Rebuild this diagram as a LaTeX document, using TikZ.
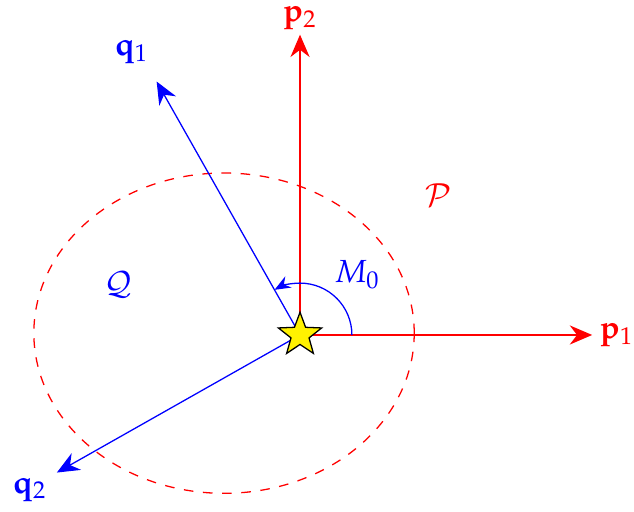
\documentclass[tikz,border=0pt]{standalone}
\usepackage{mathpazo}
\usetikzlibrary{positioning,shapes.geometric,arrows.meta}
\tikzset{
  vecp/.style={red, -{Stealth[length=7pt,width=6pt]}},
  vecq/.style={blue, -{Stealth[length=7pt,width=6pt]}},
  starnode/.style={star, star points=5, star point ratio=2.4, minimum size=5mm, inner sep=0pt, draw=black, fill=yellow},
  lbl/.style={inner sep=1pt}}
\begin{document}
\begin{tikzpicture}
\useasboundingbox (-3.297,-1.945) rectangle (3.670,3.681);
% region boundary
\draw[red, dashed] (-0.835,0.02) ellipse [x radius=2.09, y radius=1.76];
% end points of the vectors
\coordinate (p1) at (3.21,0);
\coordinate (p2) at (0,3.30);
\coordinate (q1) at (119.5:3.20);
\coordinate (q2) at (209.5:3.07);
\coordinate (o) at (0,0);
\draw[vecp] (o) -- (p1);
\draw[vecp] (o) -- (p2);
\draw[vecq] (o) -- (q1);
\draw[vecq] (o) -- (q2);
\node[starnode] (s) at (o) {};
% angle between p1 and q1
\draw[blue, -{Stealth[length=5pt,width=4pt]}] (0.57,0) arc [start angle=0, end angle=119.5, radius=0.57];
\node[lbl, red] (lp1) at (3.48,0) {$\mathbf{p}_1$};
\node[lbl, red] (lp2) at (0,3.48) {$\mathbf{p}_2$};
\node[lbl, blue] (lq1) at (-1.85,3.11) {$\mathbf{q}_1$};
\node[lbl, blue] (lq2) at (-2.97,-1.70) {$\mathbf{q}_2$};
\node[lbl, blue] (m0) at (0.63,0.66) {$M_0$};
\node[lbl, blue] (rq) at (-2.0,0.55) {$\mathcal{Q}$};
\node[lbl, red] (rp) at (1.52,1.54) {$\mathcal{P}$};
\end{tikzpicture}
\end{document}
